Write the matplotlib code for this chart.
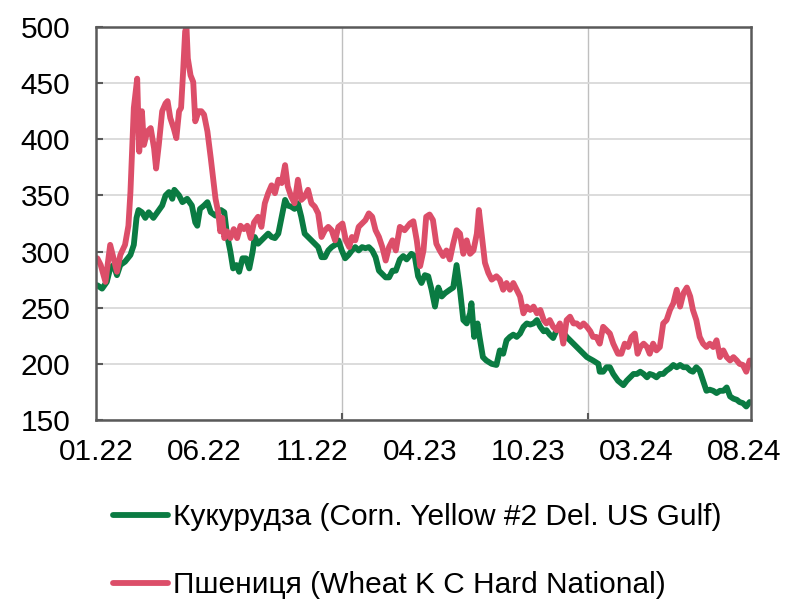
import pandas as pd
import matplotlib.pyplot as plt

plt.rcParams['font.family'] = ['Liberation Sans', 'DejaVu Sans']

# кукурудза, USD/t
corn_dates = ['2022-01-05', '2022-01-12', '2022-01-19', '2022-01-24', '2022-01-29', '2022-02-03', '2022-02-08',
              '2022-02-15', '2022-02-23', '2022-02-28', '2022-03-04', '2022-03-07', '2022-03-12', '2022-03-17',
              '2022-03-22', '2022-03-29', '2022-04-04', '2022-04-11', '2022-04-16', '2022-04-21', '2022-04-26',
              '2022-04-29', '2022-05-06', '2022-05-11', '2022-05-18', '2022-05-25', '2022-05-30', '2022-06-02',
              '2022-06-06', '2022-06-12', '2022-06-17', '2022-06-22', '2022-06-29', '2022-07-07', '2022-07-12',
              '2022-07-16', '2022-07-21', '2022-07-25', '2022-07-30', '2022-08-03', '2022-08-08', '2022-08-13',
              '2022-08-18', '2022-08-23', '2022-08-26', '2022-08-31', '2022-09-05', '2022-09-10', '2022-09-15',
              '2022-09-20', '2022-09-25', '2022-09-30', '2022-10-05', '2022-10-10', '2022-10-14', '2022-10-19',
              '2022-10-24', '2022-10-29', '2022-11-03', '2022-11-08', '2022-11-13', '2022-11-18', '2022-11-23',
              '2022-11-28', '2022-12-03', '2022-12-08', '2022-12-13', '2022-12-18', '2022-12-23', '2022-12-28',
              '2023-01-02', '2023-01-07', '2023-01-12', '2023-01-17', '2023-01-22', '2023-01-27', '2023-02-01',
              '2023-02-06', '2023-02-11', '2023-02-16', '2023-02-21', '2023-02-26', '2023-03-03', '2023-03-08',
              '2023-03-13', '2023-03-18', '2023-03-23', '2023-03-29', '2023-04-03', '2023-04-08', '2023-04-15',
              '2023-04-20', '2023-04-25', '2023-04-30', '2023-05-05', '2023-05-10', '2023-05-15', '2023-05-20',
              '2023-05-25', '2023-05-30', '2023-06-04', '2023-06-11', '2023-06-16', '2023-06-21', '2023-06-26',
              '2023-07-01', '2023-07-06', '2023-07-11', '2023-07-13', '2023-07-17', '2023-07-22', '2023-07-25',
              '2023-07-30', '2023-08-04', '2023-08-12', '2023-08-19', '2023-08-24', '2023-08-29', '2023-09-03',
              '2023-09-08', '2023-09-13', '2023-09-18', '2023-09-23', '2023-09-28', '2023-10-03', '2023-10-08',
              '2023-10-13', '2023-10-18', '2023-10-23', '2023-10-28', '2023-11-01', '2023-11-06', '2023-11-11',
              '2023-11-16', '2023-11-21', '2023-12-01', '2023-12-11', '2023-12-21', '2023-12-31', '2024-01-09',
              '2024-01-17', '2024-01-19', '2024-01-24', '2024-01-29', '2024-02-03', '2024-02-08', '2024-02-15',
              '2024-02-23', '2024-02-28', '2024-03-04', '2024-03-09', '2024-03-14', '2024-03-19', '2024-03-24',
              '2024-03-29', '2024-04-02', '2024-04-07', '2024-04-12', '2024-04-17', '2024-04-22', '2024-04-27',
              '2024-05-02', '2024-05-07', '2024-05-12', '2024-05-17', '2024-05-22', '2024-05-27', '2024-06-01',
              '2024-06-05', '2024-06-10', '2024-06-15', '2024-06-20', '2024-06-25', '2024-06-30', '2024-07-05',
              '2024-07-10', '2024-07-15', '2024-07-20', '2024-07-25', '2024-07-30', '2024-08-04', '2024-08-09',
              '2024-08-13', '2024-08-18', '2024-08-23', '2024-08-28']
corn_values = [270, 267, 273, 285, 288, 279, 288,
               291, 297, 306, 330, 337, 335, 330,
               335, 330, 335, 341, 350, 353, 347,
               355, 350, 344, 347, 341, 326, 323,
               338, 341, 344, 335, 332, 337, 335,
               315, 300, 285, 288, 282, 294, 294,
               285, 300, 313, 307, 310, 313, 316,
               313, 312, 316, 331, 346, 341, 340,
               338, 343, 331, 316, 313, 310, 307,
               304, 295, 295, 301, 304, 306, 310,
               301, 294, 297, 301, 304, 301, 304,
               303, 304, 301, 295, 283, 280, 277,
               277, 283, 283, 293, 296, 293, 298,
               296, 278, 272, 279, 278, 266, 251,
               268, 260, 263, 266, 268, 288, 266,
               239, 236, 245, 254, 224, 236, 224,
               206, 203, 200, 199, 212, 209, 221,
               224, 226, 224, 227, 233, 236, 235,
               236, 239, 233, 229, 230, 226, 223,
               230, 232, 224, 218, 212, 206, 203,
               200, 193, 193, 197, 197, 191, 185,
               181, 185, 188, 191, 191, 193, 191,
               188, 191, 190, 188, 191, 191, 194,
               196, 199, 197, 199, 197, 197, 194,
               193, 197, 194, 185, 176, 177, 176,
               174, 176, 176, 179, 171, 169, 168,
               166, 165, 162, 166]

# пшениця, USD/t
wheat_dates = ['2022-01-05', '2022-01-10', '2022-01-17', '2022-01-24', '2022-01-29', '2022-02-03', '2022-02-08',
               '2022-02-15', '2022-02-20', '2022-02-23', '2022-02-28', '2022-03-05', '2022-03-08', '2022-03-12',
               '2022-03-15', '2022-03-20', '2022-03-25', '2022-03-30', '2022-04-02', '2022-04-06', '2022-04-11',
               '2022-04-16', '2022-04-19', '2022-04-23', '2022-04-28', '2022-05-02', '2022-05-06', '2022-05-09',
               '2022-05-12', '2022-05-15', '2022-05-17', '2022-05-19', '2022-05-23', '2022-05-27', '2022-05-30',
               '2022-06-04', '2022-06-08', '2022-06-12', '2022-06-17', '2022-06-22', '2022-06-26', '2022-06-29',
               '2022-07-03', '2022-07-06', '2022-07-09', '2022-07-12', '2022-07-16', '2022-07-21', '2022-07-26',
               '2022-07-31', '2022-08-05', '2022-08-10', '2022-08-15', '2022-08-20', '2022-08-25', '2022-08-31',
               '2022-09-05', '2022-09-10', '2022-09-15', '2022-09-20', '2022-09-25', '2022-09-30', '2022-10-05',
               '2022-10-10', '2022-10-14', '2022-10-19', '2022-10-24', '2022-10-29', '2022-11-03', '2022-11-08',
               '2022-11-13', '2022-11-18', '2022-11-23', '2022-11-28', '2022-12-03', '2022-12-08', '2022-12-13',
               '2022-12-18', '2022-12-23', '2022-12-28', '2023-01-03', '2023-01-08', '2023-01-13', '2023-01-17',
               '2023-01-22', '2023-01-27', '2023-02-01', '2023-02-06', '2023-02-11', '2023-02-16', '2023-02-21',
               '2023-02-26', '2023-03-03', '2023-03-08', '2023-03-13', '2023-03-18', '2023-03-23', '2023-03-29',
               '2023-04-05', '2023-04-13', '2023-04-18', '2023-04-23', '2023-04-28', '2023-05-03', '2023-05-07',
               '2023-05-12', '2023-05-17', '2023-05-22', '2023-05-27', '2023-06-01', '2023-06-06', '2023-06-11',
               '2023-06-16', '2023-06-21', '2023-06-26', '2023-07-01', '2023-07-06', '2023-07-11', '2023-07-16',
               '2023-07-21', '2023-07-24', '2023-07-28', '2023-08-02', '2023-08-07', '2023-08-12', '2023-08-19',
               '2023-08-24', '2023-08-29', '2023-09-03', '2023-09-08', '2023-09-13', '2023-09-18', '2023-09-23',
               '2023-09-28', '2023-10-03', '2023-10-08', '2023-10-13', '2023-10-18', '2023-10-23', '2023-10-28',
               '2023-11-01', '2023-11-06', '2023-11-11', '2023-11-16', '2023-11-21', '2023-11-26', '2023-12-01',
               '2023-12-06', '2023-12-11', '2023-12-16', '2023-12-21', '2023-12-26', '2023-12-31', '2024-01-05',
               '2024-01-09', '2024-01-14', '2024-01-19', '2024-01-24', '2024-01-29', '2024-02-03', '2024-02-08',
               '2024-02-15', '2024-02-20', '2024-02-25', '2024-03-01', '2024-03-06', '2024-03-11', '2024-03-15',
               '2024-03-19', '2024-03-24', '2024-03-29', '2024-04-02', '2024-04-07', '2024-04-12', '2024-04-17',
               '2024-04-22', '2024-04-27', '2024-05-02', '2024-05-07', '2024-05-12', '2024-05-17', '2024-05-22',
               '2024-05-27', '2024-06-01', '2024-06-05', '2024-06-10', '2024-06-15', '2024-06-20', '2024-06-25',
               '2024-06-30', '2024-07-05', '2024-07-10', '2024-07-15', '2024-07-20', '2024-07-25', '2024-07-30',
               '2024-08-04', '2024-08-09', '2024-08-13', '2024-08-18', '2024-08-23', '2024-08-28']
wheat_values = [294, 288, 273, 306, 294, 282, 297,
                306, 323, 353, 428, 454, 389, 425,
                395, 407, 410, 392, 374, 395, 425,
                432, 434, 419, 410, 401, 425, 428,
                460, 496, 500, 472, 457, 451, 416,
                425, 425, 422, 407, 383, 362, 347,
                335, 318, 330, 312, 318, 312, 320,
                312, 323, 320, 323, 312, 326, 331,
                322, 343, 352, 359, 352, 364, 361,
                377, 358, 349, 343, 364, 346, 349,
                355, 343, 340, 334, 313, 319, 322,
                319, 310, 322, 325, 310, 304, 313,
                310, 322, 325, 328, 334, 331, 319,
                313, 304, 292, 304, 310, 301, 322,
                319, 325, 327, 310, 287, 301, 331,
                333, 328, 307, 301, 296, 301, 293,
                307, 319, 316, 298, 310, 298, 301,
                316, 337, 316, 290, 281, 275, 278,
                275, 266, 272, 266, 272, 266, 260,
                245, 251, 248, 251, 245, 248, 239,
                236, 239, 233, 230, 236, 218, 239,
                242, 236, 236, 233, 236, 233, 229,
                224, 224, 218, 233, 230, 227, 218,
                209, 209, 218, 215, 224, 227, 209,
                215, 218, 215, 209, 218, 212, 215,
                236, 239, 248, 254, 266, 251, 263,
                268, 260, 248, 239, 224, 218, 215,
                218, 215, 221, 206, 212, 206, 203,
                206, 203, 200, 199, 193, 203]

labels = ['Кукурудза (Corn. Yellow #2 Del. US Gulf)', 'Пшениця (Wheat K C Hard National)']
colors = ['#0A7B42', '#DC4E69']

tick_dates = ['2022-01-03', '2022-06-12', '2022-11-19', '2023-04-28', '2023-10-05', '2024-03-13', '2024-08-20']
tick_labels = ['01.22', '06.22', '11.22', '04.23', '10.23', '03.24', '08.24']
grid_dates = ['2023-01-03', '2024-01-02']
y_ticks = [150, 200, 250, 300, 350, 400, 450, 500]

fig = plt.figure(figsize=(7.94, 6.03), dpi=100)
ax = fig.add_axes([96 / 794, 183 / 603, 655 / 794, 393 / 603])

ax.plot(pd.to_datetime(corn_dates), corn_values, color=colors[0], lw=4.2,
        solid_joinstyle='round', solid_capstyle='round', label=labels[0])
ax.plot(pd.to_datetime(wheat_dates), wheat_values, color=colors[1], lw=4.2,
        solid_joinstyle='round', solid_capstyle='round', label=labels[1])

ax.set_xlim(pd.Timestamp('2022-01-03'), pd.Timestamp('2024-08-30'))
ax.set_ylim(150, 500)
ax.set_yticks(y_ticks)
ax.set_xticks(pd.to_datetime(tick_dates))
ax.set_xticklabels(tick_labels)
ax.set_xticks(pd.to_datetime(grid_dates), minor=True)

ax.tick_params(axis='x', which='major', length=0, pad=13, labelsize=21.5)
ax.tick_params(axis='x', which='minor', direction='in', length=5, width=1.5, color='#595959')
ax.tick_params(axis='y', direction='in', length=5, width=1.5, color='#595959', pad=18.5, labelsize=21.5)

ax.grid(axis='y', color='#D9D9D9', lw=1.3)
ax.grid(axis='x', which='minor', color='#BFBFBF', lw=1)
ax.set_axisbelow(True)
for s in ax.spines.values():
    s.set_color('#595959')
    s.set_linewidth(1.8)

fig.legend(loc='upper left', bbox_to_anchor=(113 / 794, 1 - 503 / 603), frameon=False,
           fontsize=21.5, handlelength=1.85, handletextpad=0.15, labelspacing=1.34,
           borderpad=0, borderaxespad=0)

fig.savefig('out.png', dpi=100)
